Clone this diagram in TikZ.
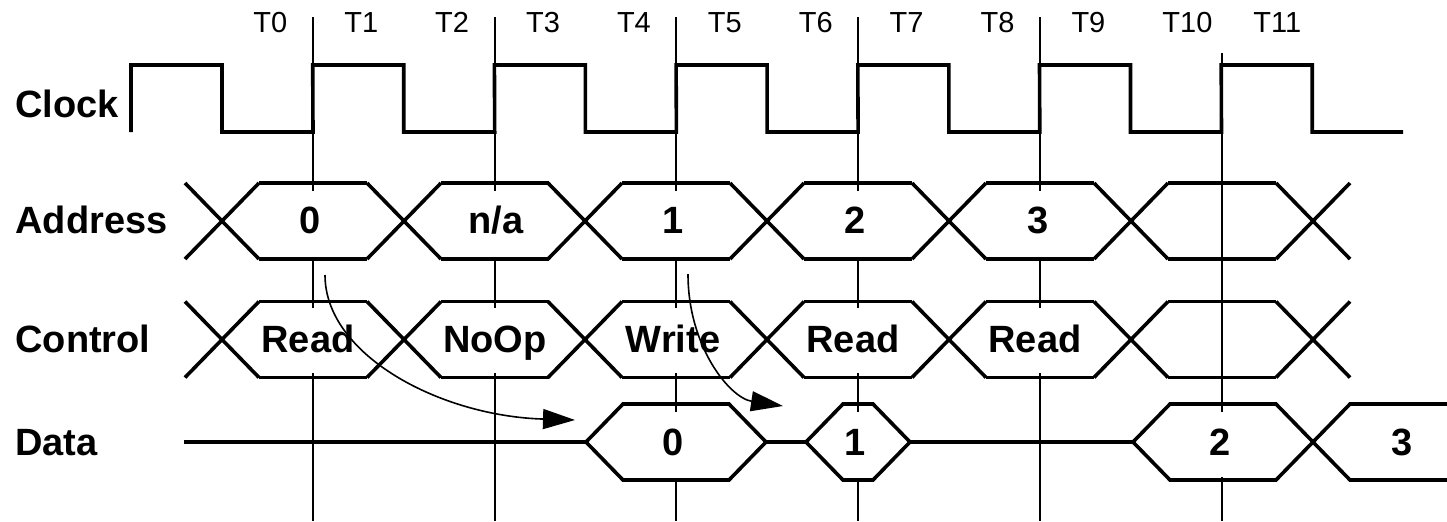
\documentclass[tikz,border=0pt]{standalone}
\usepackage{fontspec}
\setmainfont{Liberation Sans}
\usetikzlibrary{arrows.meta}

\tikzset{
  wave/.style={line width=1.8pt},
  gridline/.style={line width=1.1pt},
  rowlabel/.style={font=\fontsize{19}{19}\selectfont\bfseries, anchor=base west, inner sep=0pt},
  val/.style={font=\fontsize{19}{19}\selectfont\bfseries, anchor=base, inner sep=0pt},
  tlabel/.style={font=\fontsize{14.5}{14.5}\selectfont, anchor=base west, inner sep=0pt},
  flow/.style={line width=0.8pt, -{Triangle[length=16pt,width=10pt]}}
}

\begin{document}
\begin{tikzpicture}[x=0.5pt, y=-0.5pt]
    \useasboundingbox (0,0) rectangle (1447,521);

    % time labels
    \foreach \i in {0,...,11}
        \node[tlabel] (t\i) at ({253+90.9*\i},32) {T\i};

    % clock edge reference lines
    \foreach \x in {313,495,1040}
        \draw[gridline] (\x,17) -- (\x,191) (\x,257) -- (\x,308) (\x,373) -- (\x,521);
    \foreach \x in {676,858}
        \draw[gridline] (\x,17) -- (\x,191) (\x,257) -- (\x,308) (\x,373) -- (\x,412) (\x,478) -- (\x,521);
    \draw[gridline] (1222,53) -- (1222,412) (1222,477) -- (1222,521);

    % signal names
    \node[rowlabel] (clock) at (15,117) {Clock};
    \node[rowlabel] (address) at (15,233) {Address};
    \node[rowlabel] (control) at (15,352) {Control};
    \node[rowlabel] (data) at (15,455) {Data};

    % clock wave
    \draw[wave] (131,132) foreach \k in {0,...,6} {
        -- ({131+181.7*\k},65) -- ({222+181.7*\k},65)
        -- ({222+181.7*\k},132) -- ({313+181.7*\k},132) };

    % address and control buses
    \foreach \y in {221,339.5} {
        \foreach \c in {222,404,585,767,949,1131,1313}
            \draw[wave] ({\c-37},{\y-38}) -- ({\c+37},{\y+38}) ({\c-37},{\y+38}) -- ({\c+37},{\y-38});
        \foreach \c in {222,404,585,767,949,1131}
            \draw[wave] ({\c+37},{\y-38}) -- ({\c+145},{\y-38}) ({\c+37},{\y+38}) -- ({\c+145},{\y+38});
    }

    % data bus
    \draw[wave] (184,442) -- (586,442) -- (623,404) -- (729,404) -- (766,442) -- (806,442)
        -- (843,404) -- (873,404) -- (910,442) -- (1133,442) -- (1170,404) -- (1276,404)
        -- (1350,480) -- (1447,480);
    \draw[wave] (586,442) -- (623,480) -- (729,480) -- (766,442);
    \draw[wave] (806,442) -- (843,480) -- (873,480) -- (910,442);
    \draw[wave] (1133,442) -- (1170,480) -- (1276,480) -- (1350,404) -- (1447,404);

    % bus values
    \node[val] (a0) at (310,233) {0};
    \node[val] (ana) at (496,233) {n/a};
    \node[val] (a1) at (673,233) {1};
    \node[val] (a2) at (855,233) {2};
    \node[val] (a3) at (1038,233) {3};

    \node[val] (cread) at (308,352) {Read};
    \node[val] (cnoop) at (495,352) {NoOp};
    \node[val] (cwrite) at (673,352) {Write};
    \node[val] (cread2) at (853,352) {Read};
    \node[val] (cread3) at (1035,352) {Read};

    \node[val] (d0) at (673,455) {0};
    \node[val] (d1) at (855,455) {1};
    \node[val] (d2) at (1220,455) {2};
    \node[val] (d3) at (1402,455) {3};

    % address to data
    \coordinate (rd) at (325,275);
    \coordinate (rdend) at (575,420);
    \coordinate (wr) at (688,274);
    \coordinate (wrend) at (783,406);
    \draw[flow] (rd) .. controls (325,355) and (440,416) .. (rdend);
    \draw[flow] (wr) .. controls (688,347) and (730,398) .. (wrend);
\end{tikzpicture}
\end{document}
